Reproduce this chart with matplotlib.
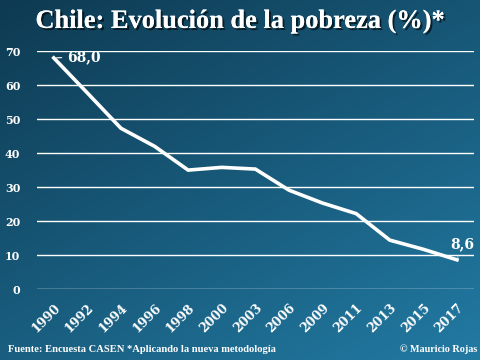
import numpy as np
import matplotlib
matplotlib.use("Agg")
import matplotlib.pyplot as plt
import matplotlib.patheffects as pe

# Datos: pobreza en Chile (%), encuesta CASEN
years = ["1990", "1992", "1994", "1996", "1998", "2000", "2003",
         "2006", "2009", "2011", "2013", "2015", "2017"]
poverty = [68.0, 57.7, 47.3, 42.0, 35.0, 35.8, 35.3,
           29.1, 25.3, 22.2, 14.4, 11.7, 8.6]
yticks = [0, 10, 20, 30, 40, 50, 60, 70]

fig = plt.figure(figsize=(4.8, 3.6), dpi=100)

# background gradient
bg = fig.add_axes([0, 0, 1, 1])
gx, gy = np.meshgrid(np.linspace(0, 1, 200), np.linspace(0, 1, 200))
t = np.clip(0.55 * gx + 0.75 * gy, 0, 1.3) / 1.3
c0 = np.array([0x0e, 0x3a, 0x52]) / 255
c1 = np.array([0x22, 0x7a, 0xa3]) / 255
img = c0[None, None, :] * (1 - t[..., None]) + c1[None, None, :] * t[..., None]
bg.imshow(img, origin="upper", aspect="auto", extent=[0, 1, 0, 1])
bg.axis("off")

ax = fig.add_axes([0.077, 0.197, 0.91, 0.661])
ax.patch.set_alpha(0)
x = np.arange(len(years))
ax.plot(x, poverty, color="white", lw=2.6, solid_joinstyle="miter")
ax.set_xlim(-0.5, len(years) - 0.5)
ax.set_ylim(0, 70)
ax.set_yticks(yticks)
ax.set_yticklabels([str(v) for v in yticks], color="white",
                   fontfamily="DejaVu Serif", fontweight="bold", fontsize=8)
ax.set_xticks(x)
ax.set_xticklabels(years, rotation=45, ha="right", rotation_mode="anchor",
                   color="white", fontfamily="DejaVu Serif",
                   fontweight="bold", fontsize=9)
ax.tick_params(length=0, pad=9)
ax.tick_params(axis="y", pad=12)
ax.grid(axis="y", color="white", lw=1)
ax.set_axisbelow(True)
for s in ax.spines.values():
    s.set_visible(False)

# etiquetas de extremos
ax.annotate("68,0", xy=(x[0], poverty[0]), xytext=(x[0] + 0.4, poverty[0] + 0.3),
            color="white", fontsize=10, fontweight="bold", fontfamily="DejaVu Serif",
            va="center", arrowprops=dict(arrowstyle="-", color="white", lw=0.8))
ax.annotate("8,6", xy=(x[-1], poverty[-1]), xytext=(x[-1] + 0.15, poverty[-1] + 4.5),
            color="white", fontsize=10, fontweight="bold", fontfamily="DejaVu Serif",
            ha="center", va="center",
            arrowprops=dict(arrowstyle="-", color="white", lw=0.8))

fig.text(0.5, 0.94, "Chile: Evolución de la pobreza (%)*", ha="center", va="center",
         color="white", fontsize=19, fontweight="bold", fontfamily="Liberation Serif",
         path_effects=[pe.withSimplePatchShadow(offset=(1.5, -1.5), shadow_rgbFace="black", alpha=0.6),
                       pe.Normal()])
fig.text(0.017, 0.022, "Fuente: Encuesta CASEN *Aplicando la nueva metodología",
         color="white", fontsize=7.6, fontweight="bold", fontfamily="Liberation Serif")
fig.text(0.995, 0.022, "© Mauricio Rojas", ha="right",
         color="white", fontsize=7.3, fontweight="bold", fontfamily="Liberation Serif")

fig.savefig("out.png", dpi=100)
